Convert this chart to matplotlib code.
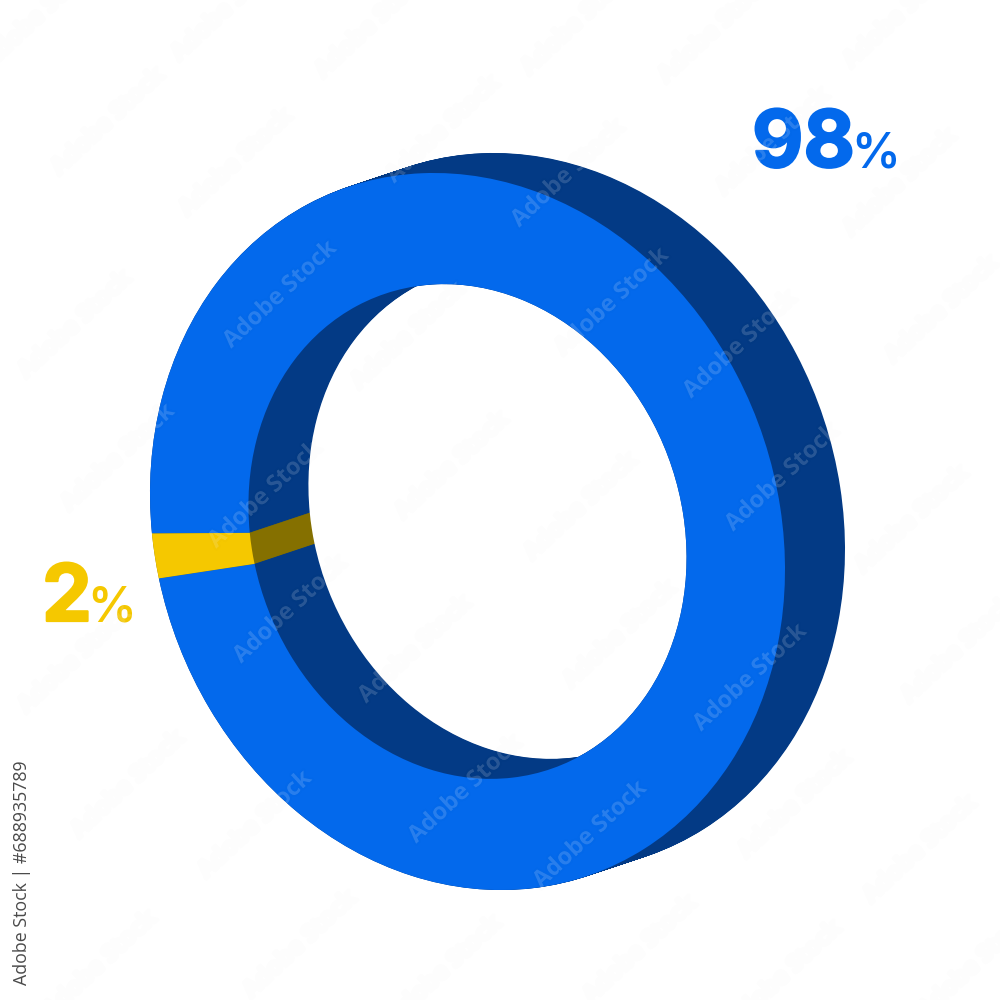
import matplotlib
matplotlib.use("Agg")
import matplotlib.pyplot as plt
from matplotlib.transforms import Affine2D
import matplotlib.patheffects as pe

# data
labels = ["98", "2"]
values = [98, 2]
front_colors = ["#0369EC", "#F5C800"]
wall_colors = ["#033A85", "#857000"]
label_colors = ["#0369EC", "#F5C800"]
start_angle = 173.6
hole_ratio = 0.69

# projected ring geometry (reference pixels)
cx, cy = 467.5, 531.5
ax_a, ax_c, ax_d = 317.5, 38.0, 356.5
depth_x, depth_y = 60.0, -20.0
n_layers = 72

watermarks = [(40,15),(228,8),(372,25),(578,22),(715,30),(900,15),
    (108,122),(236,163),(443,130),(568,174),(773,142),(900,183),
    (280,295),(408,336),(612,302),(740,345),(942,310),
    (75,325),(118,458),(452,466),(581,507),(782,478),(912,520),
    (265,495),(290,610),(415,650),(620,635),(750,678),(958,650),
    (75,660),(128,785),(255,825),(465,790),(590,835),(795,805),(920,850),
    (100,965),(300,945),(445,970),(640,950),(785,975),(975,965)]

fig = plt.figure(figsize=(10, 10), dpi=100, facecolor="white")
ax = fig.add_axes([0, 0, 1, 1])


def ring(colors, k, z):
    wedges, _ = ax.pie(values, colors=colors, startangle=start_angle, counterclock=True,
                       radius=1.0, wedgeprops=dict(width=1 - hole_ratio, linewidth=0, edgecolor="none"))
    tr = Affine2D.from_values(ax_a, ax_c, 0, ax_d, cx + k * depth_x, cy + k * depth_y)
    for w in wedges:
        w.set_transform(tr + ax.transData)
        w.set_zorder(z)


for i in range(n_layers + 1):
    ring(wall_colors, 1 - i / n_layers, 2 + i * 0.001)
ring(front_colors, 0, 3)

ax.set_aspect("auto")
ax.set_xlim(0, 1000)
ax.set_ylim(1000, 0)
ax.axis("off")

font = ["Inter", "DejaVu Sans"]
big = [pe.withStroke(linewidth=1.6, foreground=label_colors[0])]
ax.text(752, 167, labels[0], color=label_colors[0], fontsize=57, fontweight="bold",
        family=font, ha="left", va="baseline", zorder=5, path_effects=big)
ax.text(851, 167, "%", color=label_colors[0], fontsize=35, fontweight="semibold",
        family=font, ha="left", va="baseline", zorder=5)
big2 = [pe.withStroke(linewidth=1.6, foreground=label_colors[1])]
ax.text(42, 621, labels[1], color=label_colors[1], fontsize=57, fontweight="bold",
        family=font, ha="left", va="baseline", zorder=5, path_effects=big2)
ax.text(87, 621, "%", color=label_colors[1], fontsize=35, fontweight="semibold",
        family=font, ha="left", va="baseline", zorder=5)

for (x, y) in watermarks:
    t = ax.text(x, y, "Adobe Stock", color=(1, 1, 1, 0.055), fontsize=17, fontweight="bold",
                family="Open Sans", rotation=43, rotation_mode="anchor",
                ha="center", va="center", zorder=6)
    t.set_path_effects([pe.withStroke(linewidth=3, foreground=(0, 0, 0, 0.006)),
                        pe.Normal()])

ax.text(22, 985, "Adobe Stock | #688935789", color="#4a4a4a", fontsize=12.8,
        family="Open Sans", rotation=90, ha="center", va="bottom", zorder=7)

fig.savefig("out.png", dpi=100, facecolor="white")
